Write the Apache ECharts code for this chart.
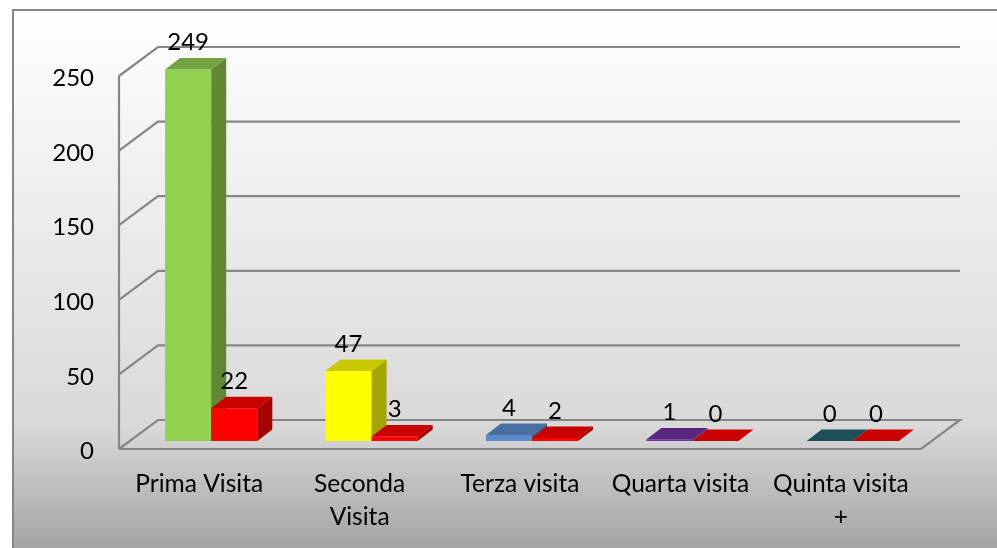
<!DOCTYPE html>
<html>
<head>
<meta charset="utf-8">
<title>Visite</title>
<style>
html, body { margin: 0; padding: 0; background: #fff; }
#chart { width: 997px; height: 548px; }
</style>
<script src="https://cdn.jsdelivr.net/npm/echarts@6/dist/echarts.min.js"></script>
</head>
<body>
<div id="chart"></div>
<script>
const categories = ['Prima Visita', 'Seconda\nVisita', 'Terza visita', 'Quarta visita', 'Quinta visita\n+']
const valoriPrimi = [249, 47, 4, 1, 0]
const valoriSecondi = [22, 3, 2, 0, 0]
const yTicks = [0, 50, 100, 150, 200, 250]

const coloriPrimi = ['#92d050', '#ffff00', '#5b8cc9', '#7030a0', '#256472']
const coloreSecondi = '#ff0000'

const FONT = 'Lato'
const LINE = '#868686'
// profondita' finta del 3d
const WALL_DX = 39
const WALL_DY = 29
const BAR_INSET_X = 12
const BAR_INSET_Y = 8
const BAR_DX = 15
const BAR_DY = 11.5

function shade(hex, k) {
  const n = parseInt(hex.slice(1), 16)
  const r = Math.round((n >> 16 & 255) * k)
  const g = Math.round((n >> 8 & 255) * k)
  const b = Math.round((n & 255) * k)
  return 'rgb(' + r + ',' + g + ',' + b + ')'
}

function poly(points, fill) {
  return { type: 'polygon', shape: { points: points }, style: { fill: fill } }
}

// pareti e griglia: ogni tick fa il tratto obliquo e la linea di fondo
function renderWall(params, api) {
  const cs = params.coordSys
  const y = api.coord([0, api.value(0)])[1]
  const left = cs.x
  const right = cs.x + cs.width
  const lineStyle = { stroke: LINE, lineWidth: 2.2, fill: null }
  const points = [[left, y], [left + WALL_DX, y - WALL_DY], [right + WALL_DX, y - WALL_DY]]
  if (api.value(0) === 0) points.push([right, y], [left, y])
  const children = [{ type: 'polyline', shape: { points: points }, style: lineStyle }]
  if (params.dataIndex === 0) {
    children.push({
      type: 'line',
      shape: { x1: left, y1: cs.y, x2: left, y2: cs.y + cs.height },
      style: lineStyle
    })
  }
  return { type: 'group', children: children }
}

// barra finta 3d, side = -1 a sinistra del centro, 0 a destra
function makeBarRender(side, colorOf) {
  return function (params, api) {
    const cat = api.value(0)
    const val = api.value(1)
    const base = api.coord([cat, 0])
    const top = api.coord([cat, val])
    const w = api.size([1, 0])[0] * 0.2875
    const x0 = base[0] + BAR_INSET_X + side * w
    const x1 = x0 + w
    const y0 = base[1] - BAR_INSET_Y
    const y1 = top[1] - BAR_INSET_Y
    const color = colorOf(params.dataIndex)
    return {
      type: 'group',
      children: [
        poly([[x0, y0], [x1, y0], [x1, y1], [x0, y1]], color),
        poly([[x1, y0], [x1 + BAR_DX, y0 - BAR_DY], [x1 + BAR_DX, y1 - BAR_DY], [x1, y1]], shade(color, 0.65)),
        poly([[x0, y1], [x1, y1], [x1 + BAR_DX, y1 - BAR_DY], [x0 + BAR_DX, y1 - BAR_DY]], shade(color, 0.79)),
        {
          type: 'text',
          z2: 10,
          style: {
            x: (x0 + x1) / 2,
            y: y1 - 27,
            text: String(val),
            align: 'center',
            verticalAlign: 'middle',
            fontFamily: FONT,
            fontSize: 24,
            fill: '#000'
          }
        }
      ]
    }
  }
}

const chart = echarts.init(document.getElementById('chart'), null, { renderer: 'canvas' })
chart.setOption({
  animation: false,
  graphic: [{
    type: 'rect',
    z: -10,
    shape: { x: 13, y: 10, width: 1000, height: 560 },
    style: {
      fill: new echarts.graphic.LinearGradient(0, 0, 0, 1, [
        { offset: 0, color: '#ffffff' },
        { offset: 0.74, color: '#d9d9d9' },
        { offset: 0.95, color: '#a6a6a6' },
        { offset: 1, color: '#a6a6a6' }
      ]),
      stroke: '#868686',
      lineWidth: 2
    }
  }],
  grid: { left: 119, right: 76, top: 76, bottom: 99 },
  xAxis: {
    type: 'category',
    data: categories,
    axisLine: { show: false },
    axisTick: { show: false },
    axisLabel: { margin: 19, color: '#000', fontFamily: FONT, fontSize: 24.5, lineHeight: 33, interval: 0 }
  },
  yAxis: {
    type: 'value',
    min: 0,
    max: 250,
    interval: 50,
    splitLine: { show: false },
    axisLine: { show: false },
    axisTick: { show: false },
    // lineHeight piccolo con top: abbassa il testo di un paio di px
    axisLabel: { margin: 25, color: '#000', fontFamily: FONT, fontSize: 24, verticalAlign: 'top', lineHeight: 5 }
  },
  series: [
    {
      type: 'custom',
      renderItem: renderWall,
      data: yTicks.map(v => [v]),
      encode: { y: 0 },
      silent: true,
      z: 1
    },
    {
      type: 'custom',
      renderItem: makeBarRender(-1, i => coloriPrimi[i]),
      data: valoriPrimi.map((v, i) => [i, v]),
      encode: { x: 0, y: 1 },
      z: 2
    },
    {
      type: 'custom',
      renderItem: makeBarRender(0, () => coloreSecondi),
      data: valoriSecondi.map((v, i) => [i, v]),
      encode: { x: 0, y: 1 },
      z: 3
    }
  ]
})
</script>
</body>
</html>
